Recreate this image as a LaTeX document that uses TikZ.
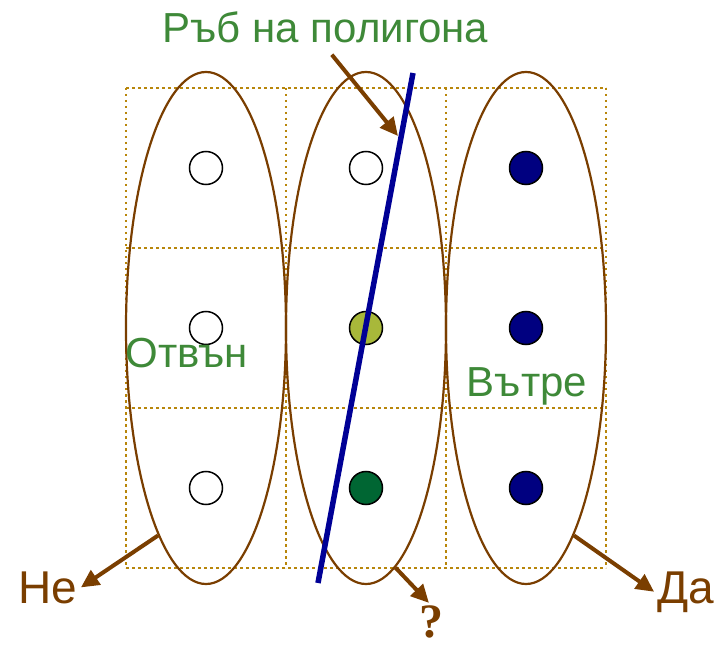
\documentclass[tikz,border=0pt]{standalone}
\usepackage{fontspec}
\setmainfont{Liberation Sans}
\newfontfamily\qfont{Liberation Serif}
\usepackage{tikz}
\usetikzlibrary{arrows.meta,shapes.geometric}

\definecolor{labelgreen}{RGB}{62,137,56}
\definecolor{arrowbrown}{RGB}{122,62,0}
\definecolor{gridgold}{RGB}{184,134,11}
\definecolor{edgeblue}{RGB}{0,0,150}
\definecolor{insidenavy}{RGB}{0,0,128}
\definecolor{hitgreen}{RGB}{0,102,51}
\definecolor{halfyellow}{RGB}{168,184,58}

\tikzset{
	cellgrid/.style={gridgold, line width=2.5pt, dash pattern=on 2.5pt off 3.5pt},
	band/.style={ellipse, draw=arrowbrown, line width=2.2pt, minimum width=160pt, minimum height=512pt, inner sep=0pt},
	sample/.style={circle, draw=black, line width=1.5pt, minimum size=33pt, inner sep=0pt, fill=white},
	tag/.style={text=labelgreen, font=\fontsize{42}{48}\selectfont, anchor=base},
	answer/.style={text=arrowbrown, font=\fontsize{46}{52}\selectfont, anchor=base},
	pointer/.style={arrowbrown, line width=4pt, -{Triangle[length=18pt,width=17pt]}}
}

\begin{document}
\begin{tikzpicture}[x=1pt, y=-1pt]
			%%%%% START %%%%%
			\useasboundingbox (0, 0) rectangle (721, 647);
			
			% dotted 3x3 cells
			\foreach \i in {0,...,3} {
				\draw[cellgrid] (126+160*\i, 88) -- (126+160*\i, 568);
				\draw[cellgrid] (126, 88+160*\i) -- (606, 88+160*\i);
			}
			
			% one band per column
			\node[band] (outL) at (206, 328) {};
			\node[band] (outM) at (366, 328) {};
			\node[band] (outR) at (526, 328) {};
			
			% sample points
			\node[sample] (p11) at (206, 168) {};
			\node[sample] (p21) at (206, 328) {};
			\node[sample] (p31) at (206, 488) {};
			\node[sample] (p12) at (366, 168) {};
			\node[sample, fill=halfyellow] (p22) at (366, 328) {};
			\node[sample, fill=hitgreen] (p32) at (366, 488) {};
			\node[sample, fill=insidenavy] (p13) at (526, 168) {};
			\node[sample, fill=insidenavy] (p23) at (526, 328) {};
			\node[sample, fill=insidenavy] (p33) at (526, 488) {};
			
			% polygon edge
			\coordinate (eTop) at (413, 73);
			\coordinate (eBot) at (318, 583);
			\draw[edgeblue, line width=5.5pt] (eTop) -- (eBot);
			
			\node[tag] (edge) at (325.5, 43) {Ръб на полигона};
			\node[tag] (outside) at (187, 368) {Отвън};
			\node[tag] (inside) at (527, 396) {Вътре};
			
			\coordinate (hit) at (398, 136);
			\draw[pointer, shorten <=10pt] (edge.south) -- (hit);
			
			\node[answer] (no) at (48, 603) {Не};
			\node[answer] (yes) at (686, 603) {Да};
			\node[text=arrowbrown, font=\qfont\bfseries\fontsize{48}{54}\selectfont, inner sep=0.5pt] (unsure) at (431, 622) {?};
			
			\draw[pointer] (outL.257) -- (no.east);
			\draw[pointer, shorten >=3pt] (outM.277.5) -- (unsure.north);
			\draw[pointer] (outR.283) -- (yes.west);
			%%%%% END %%%%%
		\end{tikzpicture}
\end{document}
